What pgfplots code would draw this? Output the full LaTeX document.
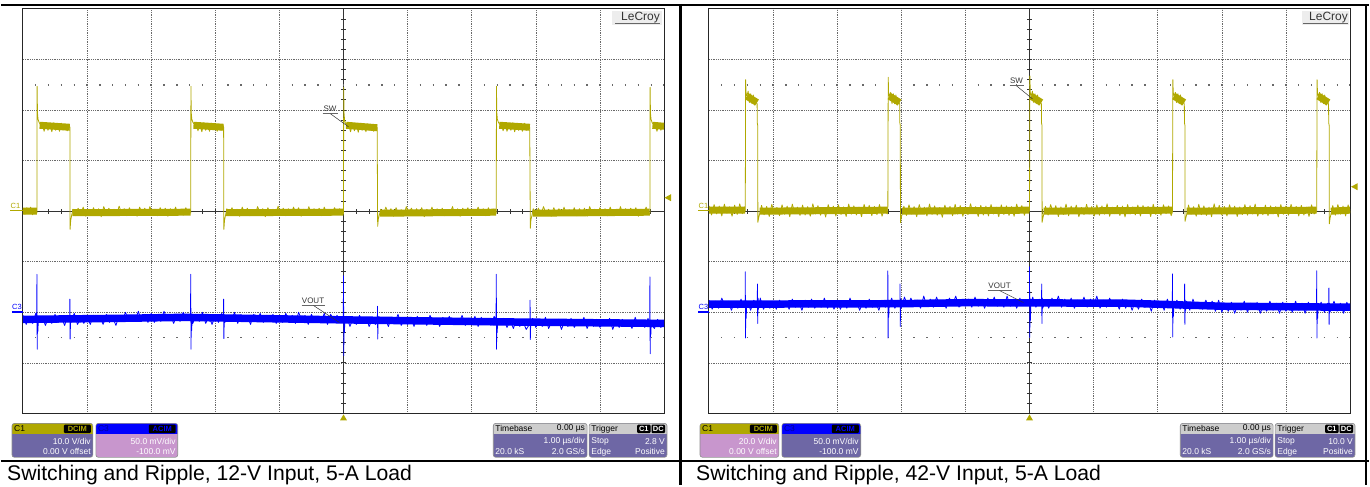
\documentclass[border=0pt]{standalone}
\usepackage{pgfplots}
\pgfplotsset{compat=1.18}
\usepackage{fontspec}
\setmainfont{Liberation Sans}
\definecolor{sy}{RGB}{176,168,0}
\definecolor{sb}{RGB}{0,0,255}
\definecolor{sbd}{RGB}{0,0,150}
\definecolor{bpur}{RGB}{110,103,165}
\definecolor{bpink}{RGB}{200,150,205}
\definecolor{hgray}{RGB}{205,205,205}
\definecolor{gridc}{RGB}{105,105,105}
\newcommand{\boxfont}{\fontsize{8.5}{9}\selectfont}
\newcommand{\badgefont}{\fontsize{7.5}{8}\selectfont\bfseries}
\pgfplotsset{
 scopegrid/.style={width=642pt,height=405pt,scale only axis,anchor=south west,
   xmin=-5,xmax=5, xtick={-4,...,4}, xticklabels={}, yticklabels={},
   major tick length=0pt, tick style={draw=none},
   grid=major, major grid style={gridc, line width=0.55pt, dash pattern=on 0.8pt off 1pt},
   axis line style={black!85, line width=1pt}, clip mode=individual, unbounded coords=jump},
 chthree/.style={width=642pt,height=405pt,scale only axis,anchor=south west,
   xmin=-5,xmax=5, ymin=-100,ymax=300, hide axis, unbounded coords=jump},
 trace/.style={line width=0.8pt, line join=round},
}
\newcommand{\scopedecor}{%
 \draw[black!80, line width=0.9pt] (rel axis cs:0.5,0) -- (rel axis cs:0.5,1);
 \draw[black!80, line width=0.9pt] (rel axis cs:0,0.5) -- (rel axis cs:1,0.5);
 \pgfplotsinvokeforeach{0.02,0.04,...,0.98}{\draw[black!80,line width=0.8pt] (rel axis cs:##1,0.5) ++(0pt,-2.5pt) -- ++(0pt,5pt);}
 \pgfplotsinvokeforeach{0.025,0.05,...,0.975}{\draw[black!80,line width=0.8pt] (rel axis cs:0.5,##1) ++(-2.5pt,0pt) -- ++(5pt,0pt);}
 \draw[gridc, line width=1.4pt, dash pattern=on 1.4pt off 11.44pt] (rel axis cs:0.02,0.8125) ++(-0.7pt,0pt) -- (rel axis cs:1,0.8125);
 \draw[gridc, line width=1.4pt, dash pattern=on 1.4pt off 11.44pt] (rel axis cs:0.02,0.1875) ++(-0.7pt,0pt) -- (rel axis cs:1,0.1875);
}
\newcommand{\infobox}[4]{%
 \begin{scope}
 \clip[rounded corners=2.5pt] (#1,28) rectangle (#2,62);
 \fill[#4] (#1,28) rectangle (#2,62);
 \fill[#3] (#1,51) rectangle (#2,62);
 \end{scope}
 \draw[black!45, line width=0.6pt, rounded corners=2.5pt] (#1,28) rectangle (#2,62);
}
\begin{document}
\begin{tikzpicture}[x=1pt,y=1pt]
\path (0,0) rectangle (1370,486);
% ================= LEFT PANEL =================
\begin{axis}[scopegrid, at={(22pt,72pt)}, ymin=-40, ymax=40, ytick={-30,-20,...,30}]
\scopedecor
\addplot[sy, line width=7pt] coordinates {(-5,0)(-4.785,0)(-4.78,nan)(-4.74,17.0)(-4.27,16.6)(-4.265,nan)(-4.23,-0.3)(-2.386,-0.2)(-2.383,nan)(-2.34,17.0)(-1.872,16.6)(-1.868,nan)(-1.83,-0.3)(-0.003,-0.2)(0,nan)(0.04,17.0)(0.527,16.5)(0.53,nan)(0.57,-0.4)(2.38,-0.2)(2.383,nan)(2.43,17.0)(2.907,16.6)(2.91,nan)(2.95,-0.4)(4.777,-0.2)(4.78,nan)(4.82,17.0)(5,16.8)};
\addplot[sy, trace] coordinates {
(-5.00,0.5)(-4.97,-0.6)(-4.94,0.7)(-4.91,-0.4)(-4.88,0.8)(-4.85,-0.7)(-4.82,0.5)(-4.79,-0.5)
(-4.782,-0.3)(-4.779,24.7)(-4.774,19.5)(-4.765,18.2)(-4.75,17.6)(-4.73,17.2)(-4.70,17.3)(-4.67,15.8)(-4.64,17.4)(-4.61,16.0)(-4.58,17.2)(-4.55,15.7)(-4.52,17.5)(-4.49,16.0)(-4.46,17.3)(-4.43,15.8)(-4.40,17.4)(-4.37,16.1)(-4.34,17.2)(-4.31,15.9)(-4.28,17.0)(-4.268,16.6)(-4.265,-3.6)(-4.255,-1.8)(-4.24,-0.8)
(-4.22,0.4)(-4.18,-0.9)(-4.14,0.6)(-4.10,-0.5)(-4.06,0.8)(-4.02,-1.0)(-3.98,0.3)(-3.94,-0.7)(-3.90,0.7)(-3.86,-0.6)(-3.82,0.5)(-3.78,-1.1)(-3.74,0.9)(-3.70,-0.4)(-3.66,0.6)(-3.62,-0.8)(-3.58,0.4)(-3.54,-0.7)(-3.50,1.0)(-3.46,-0.5)(-3.42,0.5)(-3.38,-0.9)(-3.34,0.7)(-3.30,-0.6)(-3.26,0.3)(-3.22,-1.0)(-3.18,0.8)(-3.14,-0.5)(-3.10,0.6)(-3.06,-0.8)(-3.02,0.9)(-2.98,-0.6)(-2.94,0.4)(-2.90,-0.9)(-2.86,0.7)(-2.82,-0.4)(-2.78,0.6)(-2.74,-1.0)(-2.70,0.5)(-2.66,-0.7)(-2.62,0.8)(-2.58,-0.5)(-2.54,0.4)(-2.50,-0.8)(-2.46,0.7)(-2.42,-0.6)(-2.39,0.2)
(-2.383,-0.4)(-2.380,24.7)(-2.375,19.5)(-2.366,18.2)(-2.35,17.6)(-2.33,17.2)(-2.30,17.4)(-2.27,15.9)(-2.24,17.3)(-2.21,15.7)(-2.18,17.5)(-2.15,16.0)(-2.12,17.2)(-2.09,15.8)(-2.06,17.4)(-2.03,16.1)(-2.00,17.3)(-1.97,15.8)(-1.94,17.2)(-1.91,16.0)(-1.88,17.0)(-1.87,16.6)(-1.866,-3.6)(-1.856,-1.8)(-1.84,-0.8)
(-1.82,0.5)(-1.78,-0.8)(-1.74,0.7)(-1.70,-0.6)(-1.66,0.4)(-1.62,-1.0)(-1.58,0.8)(-1.54,-0.5)(-1.50,0.6)(-1.46,-0.9)(-1.42,0.3)(-1.38,-0.7)(-1.34,0.9)(-1.30,-0.4)(-1.26,0.5)(-1.22,-1.1)(-1.18,0.7)(-1.14,-0.6)(-1.10,0.4)(-1.06,-0.8)(-1.02,1.0)(-0.98,-0.5)(-0.94,0.6)(-0.90,-0.9)(-0.86,0.5)(-0.82,-0.7)(-0.78,0.8)(-0.74,-0.4)(-0.70,0.7)(-0.66,-1.0)(-0.62,0.4)(-0.58,-0.6)(-0.54,0.9)(-0.50,-0.8)(-0.46,0.5)(-0.42,-0.5)(-0.38,0.6)(-0.34,-0.9)(-0.30,0.8)(-0.26,-0.6)(-0.22,0.3)(-0.18,-0.8)(-0.14,0.7)(-0.10,-0.5)(-0.06,0.5)(-0.02,-0.7)
(0.0,-0.5)(0.003,24.5)(0.008,19.5)(0.017,18.0)(0.03,17.4)(0.05,17.0)(0.08,17.2)(0.11,15.7)(0.14,17.3)(0.17,15.9)(0.20,17.2)(0.23,15.6)(0.26,17.4)(0.29,16.0)(0.32,17.1)(0.35,15.7)(0.38,17.3)(0.41,16.0)(0.44,17.1)(0.47,15.8)(0.50,17.0)(0.525,16.5)(0.533,-3.0)(0.543,-1.6)(0.56,-0.7)
(0.58,0.4)(0.62,-0.7)(0.66,0.8)(0.70,-0.5)(0.74,0.5)(0.78,-1.0)(0.82,0.7)(0.86,-0.6)(0.90,0.3)(0.94,-0.9)(0.98,0.9)(1.02,-0.4)(1.06,0.6)(1.10,-0.8)(1.14,0.5)(1.18,-0.6)(1.22,0.7)(1.26,-1.1)(1.30,0.4)(1.34,-0.5)(1.38,0.8)(1.42,-0.8)(1.46,0.5)(1.50,-0.6)(1.54,0.6)(1.58,-0.9)(1.62,0.3)(1.66,-0.5)(1.70,0.9)(1.74,-0.7)(1.78,0.5)(1.82,-1.0)(1.86,0.6)(1.90,-0.4)(1.94,0.7)(1.98,-0.8)(2.02,0.4)(2.06,-0.6)(2.10,0.8)(2.14,-0.5)(2.18,0.5)(2.22,-0.9)(2.26,0.7)(2.30,-0.6)(2.34,0.4)(2.37,-0.5)
(2.383,-0.4)(2.386,24.7)(2.391,19.5)(2.40,18.2)(2.415,17.6)(2.435,17.2)(2.46,17.3)(2.49,15.9)(2.52,17.4)(2.55,15.8)(2.58,17.2)(2.61,16.0)(2.64,17.5)(2.67,15.7)(2.70,17.3)(2.73,16.0)(2.76,17.2)(2.79,15.8)(2.82,17.4)(2.85,16.0)(2.88,17.1)(2.905,16.6)(2.914,-3.4)(2.924,-1.7)(2.94,-0.8)
(2.96,0.5)(3.00,-0.8)(3.04,0.6)(3.08,-0.6)(3.12,0.9)(3.16,-0.5)(3.20,0.4)(3.24,-1.0)(3.28,0.7)(3.32,-0.4)(3.36,0.5)(3.40,-0.8)(3.44,0.8)(3.48,-0.7)(3.52,0.3)(3.56,-0.6)(3.60,0.7)(3.64,-0.9)(3.68,0.5)(3.72,-0.5)(3.76,0.6)(3.80,-1.0)(3.84,0.9)(3.88,-0.4)(3.92,0.4)(3.96,-0.8)(4.00,0.7)(4.04,-0.6)(4.08,0.5)(4.12,-0.9)(4.16,0.8)(4.20,-0.5)(4.24,0.3)(4.28,-0.7)(4.32,0.9)(4.36,-0.6)(4.40,0.5)(4.44,-0.8)(4.48,0.6)(4.52,-0.5)(4.56,0.7)(4.60,-1.0)(4.64,0.4)(4.68,-0.6)(4.72,0.8)(4.76,-0.5)
(4.78,-0.4)(4.783,24.5)(4.788,19.5)(4.797,18.2)(4.812,17.6)(4.83,17.2)(4.86,17.3)(4.89,15.8)(4.92,17.4)(4.95,16.0)(4.98,17.2)(5.0,16.4)};
\end{axis}
\begin{axis}[chthree, at={(22pt,72pt)}]
\addplot[sb, line width=7.5pt] coordinates {(-5,-7)(-3.5,-6)(-2.5,-5)(-1,-6.5)(0,-7.5)(2.5,-9.5)(5,-11)};
\addplot[sb, trace] coordinates {
(-5.00,-3)(-4.95,-12)(-4.90,-4)(-4.85,-11)(-4.80,-1)
(-4.785,-7)(-4.782,37.5)(-4.778,-36.5)(-4.773,-4)(-4.768,-19)(-4.76,-8)
(-4.75,-9)(-4.70,-4)(-4.65,-13)(-4.60,-5)(-4.55,-11)(-4.50,-2)(-4.45,-10)(-4.40,-5)(-4.35,-13)(-4.30,-3)
(-4.27,-7)(-4.268,13)(-4.264,-26.5)(-4.258,-7)
(-4.25,-10)(-4.20,-1)(-4.15,-12)(-4.10,-6)(-4.05,-11)(-4.00,-4)(-3.95,-12)(-3.90,-3)(-3.85,-9)(-3.80,-4)(-3.75,-12)(-3.70,-2)(-3.65,-10)(-3.60,-5)(-3.55,-13)(-3.50,-3)
(-3.45,-8)(-3.40,0)(-3.35,-9)(-3.30,-3)(-3.25,-8)(-3.20,1)(-3.15,-9)(-3.10,-2)(-3.05,-10)(-3.00,-1)(-2.95,-10)(-2.90,-2)(-2.85,-9)(-2.80,1)(-2.75,-7)(-2.70,-2)(-2.65,-11)(-2.60,-3)(-2.55,-9)(-2.50,0)(-2.45,-8)(-2.40,-3)
(-2.386,-5)(-2.383,37.5)(-2.379,-36.5)(-2.374,-3)(-2.369,-18)(-2.36,-6)
(-2.35,-11)(-2.30,-2)(-2.25,-9)(-2.20,0)(-2.15,-11)(-2.10,-4)(-2.05,-12)(-2.00,-3)(-1.95,-10)(-1.90,-1)
(-1.872,-6)(-1.87,13)(-1.866,-26)(-1.86,-7)
(-1.85,-10)(-1.80,-3)(-1.75,-9)(-1.70,0)(-1.65,-11)(-1.60,-2)(-1.55,-8)(-1.50,-4)(-1.45,-12)(-1.40,-2)(-1.35,-9)(-1.30,-1)(-1.25,-10)(-1.20,-3)(-1.15,-9)(-1.10,-2)(-1.05,-11)(-1.00,-3)(-0.95,-10)(-0.90,-1)(-0.85,-9)(-0.80,-3)(-0.75,-11)(-0.70,0)(-0.65,-8)(-0.60,-3)(-0.55,-12)(-0.50,-2)(-0.45,-9)(-0.40,-4)(-0.35,-10)(-0.30,-1)(-0.25,-12)(-0.20,-2)(-0.15,-8)(-0.10,-3)(-0.05,-10)
(-0.003,-6)(0,36)(0.004,-43)(0.009,-5)(0.014,-20)(0.022,-7)
(0.05,-4)(0.10,-14)(0.15,-6)(0.20,-12)(0.25,-3)(0.30,-11)(0.35,-5)(0.40,-14)(0.45,-7)(0.50,-12)
(0.528,-8)(0.53,6)(0.534,-26.5)(0.54,-9)
(0.55,-4)(0.60,-11)(0.65,-6)(0.70,-14)(0.75,-5)(0.80,-11)(0.85,-2)(0.90,-13)(0.95,-7)(1.00,-12)(1.05,-5)(1.10,-14)(1.15,-4)(1.20,-10)(1.25,-6)(1.30,-13)(1.35,-3)(1.40,-11)(1.45,-6)(1.50,-14)(1.55,-5)(1.60,-12)(1.65,-4)(1.70,-12)(1.75,-7)(1.80,-11)(1.85,-3)(1.90,-13)(1.95,-6)(2.00,-12)(2.05,-4)(2.10,-14)(2.15,-5)(2.20,-11)(2.25,-7)(2.30,-13)(2.35,-4)
(2.38,-8)(2.383,37.5)(2.387,-36.5)(2.392,-6)(2.397,-20)(2.405,-9)
(2.45,-12)(2.50,-6)(2.55,-15)(2.60,-8)(2.65,-16)(2.70,-7)(2.75,-14)(2.80,-9)(2.85,-17)
(2.908,-11)(2.91,12)(2.914,-27)(2.92,-12)
(2.95,-6)(3.00,-15)(3.05,-8)(3.10,-14)(3.15,-5)(3.20,-16)(3.25,-9)(3.30,-13)(3.35,-7)(3.40,-17)(3.45,-8)(3.50,-14)(3.55,-6)(3.60,-15)(3.65,-9)(3.70,-13)(3.75,-5)(3.80,-16)(3.85,-8)(3.90,-14)(3.95,-7)(4.00,-15)(4.05,-10)(4.10,-13)(4.15,-6)(4.20,-17)(4.25,-8)(4.30,-15)(4.35,-7)(4.40,-14)(4.45,-9)(4.50,-16)(4.55,-5)(4.60,-14)(4.65,-8)(4.70,-15)(4.75,-6)
(4.777,-11)(4.78,35)(4.784,-41)(4.789,-8)(4.794,-22)(4.80,-12)
(4.85,-16)(4.90,-7)(4.95,-15)(5.00,-9)};
\end{axis}
% ================= RIGHT PANEL =================
\begin{axis}[scopegrid, at={(709pt,72pt)}, ymin=-80, ymax=80, ytick={-60,-40,...,60}]
\scopedecor
\addplot[sy, line width=7pt] coordinates {(-5,0.4)(-4.437,0.4)(-4.434,nan)(-4.41,45.5)(-4.25,43)(-4.248,nan)(-4.21,0)(-2.213,0.4)(-2.21,nan)(-2.186,45.5)(-2.026,43)(-2.024,nan)(-1.99,0)(-0.003,0.4)(0,nan)(0.024,45.5)(0.184,43)(0.186,nan)(0.22,0)(2.227,0.4)(2.23,nan)(2.254,45.5)(2.414,43)(2.416,nan)(2.45,0)(4.477,0.4)(4.48,nan)(4.504,45.5)(4.664,43)(4.666,nan)(4.70,0)(5,0.4)};
\addplot[sy, trace] coordinates {
(-5.00,2.2)(-4.96,-1.5)(-4.92,2.6)(-4.88,-1.1)(-4.84,2.0)(-4.80,-1.9)(-4.76,2.8)(-4.72,-0.8)(-4.68,1.7)(-4.64,-2.0)(-4.60,2.4)(-4.56,-1.3)(-4.52,2.9)(-4.48,-1.0)(-4.44,1.8)
(-4.434,0)(-4.432,16)(-4.428,52)(-4.422,47)(-4.409,45.5)(-4.389,47.5)(-4.369,43)(-4.349,46.5)(-4.329,42.5)(-4.309,46)(-4.289,42)(-4.269,44.5)(-4.254,42.5)(-4.249,42.5)(-4.247,35)(-4.240,34)(-4.237,-4.4)(-4.224,-2.5)(-4.204,-0.5)
(-4.18,2.3)(-4.14,-1.4)(-4.10,1.9)(-4.06,-2.1)(-4.02,2.7)(-3.98,-0.9)(-3.94,1.5)(-3.90,-1.8)(-3.86,2.5)(-3.82,-1.2)(-3.78,2.0)(-3.74,-2.2)(-3.70,2.8)(-3.66,-1.0)(-3.62,1.6)(-3.58,-1.7)(-3.54,2.4)(-3.50,-1.5)(-3.46,1.8)(-3.42,-2.0)(-3.38,2.9)(-3.34,-1.1)(-3.30,2.2)(-3.26,-1.6)(-3.22,1.4)(-3.18,-2.3)(-3.14,2.6)(-3.10,-0.8)(-3.06,2.0)(-3.02,-1.9)(-2.98,2.5)(-2.94,-1.3)(-2.90,1.7)(-2.86,-2.1)(-2.82,2.8)(-2.78,-1.2)(-2.74,2.1)(-2.70,-1.5)(-2.66,1.6)(-2.62,-2.2)(-2.58,2.7)(-2.54,-1.0)(-2.50,2.3)(-2.46,-1.8)(-2.42,1.9)(-2.38,-1.4)(-2.34,2.6)(-2.30,-2.0)(-2.26,1.5)(-2.22,-1.1)
(-2.21,0)(-2.208,16)(-2.204,53)(-2.198,47)(-2.185,45.5)(-2.165,47)(-2.145,42.5)(-2.125,46.5)(-2.105,42.5)(-2.085,46)(-2.065,42)(-2.045,44.5)(-2.03,42.5)(-2.025,42.5)(-2.023,35)(-2.016,34)(-2.013,-4.6)(-2.0,-2.5)(-1.98,-0.5)
(-1.96,2.0)(-1.92,-1.7)(-1.88,2.5)(-1.84,-1.1)(-1.80,1.8)(-1.76,-2.2)(-1.72,2.6)(-1.68,-0.9)(-1.64,1.6)(-1.60,-1.9)(-1.56,2.8)(-1.52,-1.3)(-1.48,2.1)(-1.44,-1.6)(-1.40,1.5)(-1.36,-2.4)(-1.32,2.4)(-1.28,-1.0)(-1.24,1.9)(-1.20,-1.8)(-1.16,2.7)(-1.12,-1.2)(-1.08,2.2)(-1.04,-2.0)(-1.00,1.7)(-0.96,-1.4)(-0.92,2.9)(-0.88,-0.8)(-0.84,1.8)(-0.80,-2.1)(-0.76,2.3)(-0.72,-1.5)(-0.68,2.0)(-0.64,-1.9)(-0.60,2.6)(-0.56,-1.1)(-0.52,1.6)(-0.48,-2.2)(-0.44,2.5)(-0.40,-1.3)(-0.36,2.1)(-0.32,-1.7)(-0.28,1.8)(-0.24,-2.0)(-0.20,2.8)(-0.16,-0.9)(-0.12,2.2)(-0.08,-1.6)(-0.04,1.4)
(0,0)(0.002,16)(0.006,53.5)(0.012,47)(0.025,45.5)(0.045,47.5)(0.065,43)(0.085,46.5)(0.105,42.5)(0.125,46)(0.145,42)(0.165,44.5)(0.18,42.5)(0.185,42.5)(0.187,35)(0.194,34)(0.197,-4.4)(0.21,-2.5)(0.23,-0.5)
(0.25,1.9)(0.29,-1.5)(0.33,2.6)(0.37,-1.0)(0.41,2.2)(0.45,-2.1)(0.49,1.7)(0.53,-1.3)(0.57,2.8)(0.61,-1.8)(0.65,2.0)(0.69,-0.9)(0.73,2.4)(0.77,-2.2)(0.81,1.5)(0.85,-1.4)(0.89,2.7)(0.93,-1.1)(0.97,1.8)(1.01,-1.9)(1.05,2.5)(1.09,-1.6)(1.13,2.1)(1.17,-1.2)(1.21,2.9)(1.25,-2.0)(1.29,1.6)(1.33,-1.0)(1.37,2.3)(1.41,-1.7)(1.45,2.0)(1.49,-2.3)(1.53,2.6)(1.57,-1.1)(1.61,1.7)(1.65,-1.5)(1.69,2.4)(1.73,-1.9)(1.77,2.2)(1.81,-0.8)(1.85,1.9)(1.89,-2.1)(1.93,2.7)(1.97,-1.3)(2.01,1.5)(2.05,-1.6)(2.09,2.5)(2.13,-1.0)(2.17,2.1)(2.21,-1.8)
(2.23,0)(2.232,16)(2.236,52)(2.242,47)(2.255,45.5)(2.275,47)(2.295,43)(2.315,46.5)(2.335,42.5)(2.355,46)(2.375,42)(2.395,44.5)(2.41,42.5)(2.415,42.5)(2.417,35)(2.424,34)(2.427,-4)(2.44,-2.5)(2.46,-0.5)
(2.48,2.4)(2.52,-1.2)(2.56,1.8)(2.60,-2.0)(2.64,2.7)(2.68,-1.4)(2.72,2.1)(2.76,-1.7)(2.80,1.6)(2.84,-2.2)(2.88,2.9)(2.92,-1.0)(2.96,2.3)(3.00,-1.5)(3.04,1.9)(3.08,-1.9)(3.12,2.5)(3.16,-0.9)(3.20,2.0)(3.24,-2.1)(3.28,1.7)(3.32,-1.3)(3.36,2.6)(3.40,-1.6)(3.44,2.2)(3.48,-1.1)(3.52,2.8)(3.56,-2.0)(3.60,1.5)(3.64,-1.4)(3.68,2.4)(3.72,-1.8)(3.76,2.1)(3.80,-1.0)(3.84,1.8)(3.88,-2.3)(3.92,2.6)(3.96,-1.2)(4.00,2.0)(4.04,-1.6)(4.08,2.7)(4.12,-0.8)(4.16,1.9)(4.20,-1.9)(4.24,2.3)(4.28,-1.5)(4.32,1.6)(4.36,-2.1)(4.40,2.5)(4.44,-1.1)
(4.48,0)(4.482,16)(4.486,52)(4.492,47)(4.505,45.5)(4.525,47)(4.545,43)(4.565,46.5)(4.585,42.5)(4.605,46)(4.625,42)(4.645,44.5)(4.66,42.5)(4.665,42.5)(4.667,35)(4.674,34)(4.677,-5)(4.69,-2.5)(4.71,-0.5)
(4.73,2.2)(4.77,-1.6)(4.81,2.6)(4.85,-1.2)(4.89,2.0)(4.93,-1.9)(4.97,2.5)(5.0,-0.6)};
\end{axis}
\begin{axis}[chthree, at={(709pt,72pt)}]
\addplot[sb, line width=7.5pt] coordinates {(-5,8)(-2,8.5)(-1,9.5)(1.5,9)(3,6)(5,5)};
\addplot[sb, trace] coordinates {
(-5.00,12)(-4.95,3)(-4.90,11)(-4.85,4)(-4.80,14)(-4.75,6)(-4.70,11)(-4.65,2)(-4.60,10)(-4.55,4)(-4.50,13)(-4.45,5)
(-4.436,8)(-4.434,40)(-4.43,-25.5)(-4.425,12)(-4.42,-6)(-4.412,7)
(-4.40,10)(-4.35,2)(-4.30,12)(-4.25,5)
(-4.246,8)(-4.244,28)(-4.24,-11)(-4.234,14)(-4.228,3)
(-4.20,14)(-4.15,3)(-4.10,9)(-4.05,4)(-4.00,11)(-3.95,3)(-3.90,12)(-3.85,6)(-3.80,11)(-3.75,3)(-3.70,13)(-3.65,5)(-3.60,10)(-3.55,2)(-3.50,12)(-3.45,5)(-3.40,13)(-3.35,4)(-3.30,10)(-3.25,5)(-3.20,14)(-3.15,4)(-3.10,11)(-3.05,3)(-3.00,12)(-2.95,3)(-2.90,11)(-2.85,4)(-2.80,14)(-2.75,6)(-2.70,11)(-2.65,2)(-2.60,10)(-2.55,4)(-2.50,13)(-2.45,5)(-2.40,10)(-2.35,2)(-2.30,12)(-2.25,5)
(-2.212,8)(-2.21,41)(-2.206,-25.5)(-2.201,12)(-2.196,-5)(-2.188,8)
(-2.15,14)(-2.10,4)(-2.05,12)
(-2.022,9)(-2.02,28)(-2.016,-14)(-2.01,13)(-2.004,4)
(-1.95,15)(-1.90,6)(-1.85,14)(-1.80,7)(-1.75,12)(-1.70,4)(-1.65,16)(-1.60,6)(-1.55,13)(-1.50,5)(-1.45,15)(-1.40,7)(-1.35,12)(-1.30,4)(-1.25,14)(-1.20,8)(-1.15,16)(-1.10,5)(-1.05,12)(-1.00,6)(-0.95,13)(-0.90,5)(-0.85,15)(-0.80,6)(-0.75,12)(-0.70,4)(-0.65,14)(-0.60,7)(-0.55,15)(-0.50,6)(-0.45,12)(-0.40,5)(-0.35,16)(-0.30,6)(-0.25,13)(-0.20,4)(-0.15,14)(-0.10,7)(-0.05,12)
(-0.002,9)(0,45)(0.004,-25)(0.009,14)(0.014,-8)(0.022,9)
(0.05,15)(0.10,5)(0.15,13)
(0.188,10)(0.19,28)(0.194,-11)(0.2,14)(0.206,4)
(0.25,12)(0.30,4)(0.35,14)(0.40,7)(0.45,16)(0.50,5)(0.55,13)(0.60,6)(0.65,14)(0.70,4)(0.75,12)(0.80,7)(0.85,15)(0.90,5)(0.95,13)(1.00,6)(1.05,16)(1.10,4)(1.15,12)(1.20,5)(1.25,14)(1.30,7)(1.35,12)(1.40,3)(1.45,13)
(1.50,4)(1.55,12)(1.60,2)(1.65,11)(1.70,3)(1.75,13)(1.80,5)(1.85,10)(1.90,1)(1.95,12)(2.00,4)(2.05,11)(2.10,2)(2.15,13)(2.20,5)
(2.228,7)(2.23,38)(2.234,-24.5)(2.239,11)(2.244,-4)(2.252,6)
(2.30,12)(2.35,3)(2.40,10)
(2.418,7)(2.42,28)(2.424,-12)(2.43,12)(2.436,2)
(2.45,11)(2.50,2)(2.55,13)(2.60,4)(2.65,10)(2.70,3)(2.75,12)(2.80,5)(2.85,11)(2.90,1)(2.95,12)
(3.00,0)(3.05,9)(3.10,1)(3.15,10)(3.20,-1)(3.25,8)(3.30,2)(3.35,11)(3.40,0)(3.45,9)(3.50,3)(3.55,10)(3.60,-1)(3.65,8)(3.70,1)(3.75,11)(3.80,2)(3.85,9)(3.90,-1)(3.95,10)(4.00,1)(4.05,8)(4.10,0)(4.15,11)(4.20,2)(4.25,9)(4.30,-1)(4.35,10)(4.40,3)(4.45,8)
(4.478,5)(4.48,41)(4.484,-25.5)(4.489,9)(4.494,-6)(4.502,4)
(4.55,10)(4.60,0)(4.65,9)
(4.668,5)(4.67,24)(4.674,-12)(4.68,9)(4.686,0)
(4.75,11)(4.80,1)(4.85,9)(4.90,-1)(4.95,10)(5.00,2)};
\end{axis}
% ================= annotations =================
\begin{scope}[font=\fontsize{7.5}{8}\selectfont]
 \node[sy, anchor=south west, inner sep=0] at (9.5,277) {C1};
 \draw[sy, line width=1.5pt] (9.5,275) -- (22,275);
 \node[sy, anchor=south west, inner sep=0] at (698.5,277) {C1};
 \draw[sy, line width=1.5pt] (698.5,275) -- (709,275);
 \node[sb, anchor=south west, inner sep=0] at (11,176) {C3};
 \draw[sb, line width=1.5pt] (11,173.5) -- (22,173.5);
 \node[sb, anchor=south west, inner sep=0] at (698.5,176) {C3};
 \draw[sb, line width=1.5pt] (698.5,173.5) -- (709,173.5);
\end{scope}
\fill[sy] (664.5,288) -- (671,291.5) -- (671,284.5) -- cycle;
\fill[sy] (1352,299) -- (1358.5,302.5) -- (1358.5,295.5) -- cycle;
\fill[sy] (343,71) -- (339.5,65) -- (346.5,65) -- cycle;
\fill[sy] (1030,71) -- (1026.5,65) -- (1033.5,65) -- cycle;
\begin{scope}[font=\fontsize{8}{8}\selectfont, black!80]
 \node[anchor=base, inner sep=0] at (329.5,374.5) {SW};
 \draw[black!60, line width=0.8pt] (322,372) -- (337,372);
 \draw[black!80, line width=0.5pt] (330,372) -- (348,359);
 \node[anchor=base, inner sep=0] at (1017,402.5) {SW};
 \draw[black!60, line width=0.8pt] (1010,400) -- (1024,400);
 \draw[black!80, line width=0.5pt] (1017,400) -- (1033,387);
 \node[anchor=base, inner sep=0] at (312.5,182.5) {VOUT};
 \draw[black!60, line width=0.8pt] (301,180) -- (324,180);
 \draw[black!80, line width=0.5pt] (313,180) -- (339,163);
 \node[anchor=base, inner sep=0] at (1000,197.5) {VOUT};
 \draw[black!60, line width=0.8pt] (988,195) -- (1012,195);
 \draw[black!80, line width=0.5pt] (1000,195) -- (1024,183);
\end{scope}
\fill[black!7] (612,461) rectangle (662,475);
\node[anchor=base east, inner sep=0, font=\fontsize{12}{12}\selectfont, black!80] at (660,465.5) {LeCroy};
\draw[black!60, line width=0.8pt] (615,463) -- (660,463);
\fill[black!7] (1303,461) rectangle (1350,475);
\node[anchor=base east, inner sep=0, font=\fontsize{12}{12}\selectfont, black!80] at (1349,465.5) {LeCroy};
\draw[black!60, line width=0.8pt] (1304,463) -- (1349,463);
% ---- info boxes left ----
\begin{scope}[every node/.style={inner sep=0, font=\boxfont}]
\infobox{11}{92}{sy}{bpur}
\node[anchor=west] at (13,56.5) {C1};
\fill[black, rounded corners=1pt] (63,52.3) rectangle (90,60.7);
\node[sy, font=\badgefont] at (76.5,56.5) {DCIM};
\node[anchor=east, white] at (90,44) {10.0 V/div};
\node[anchor=east, white] at (90,33.5) {0.00 V offset};
\infobox{95}{177}{sb}{bpink}
\node[anchor=west, sbd] at (97,56.5) {C3};
\fill[black, rounded corners=1pt] (148,52.3) rectangle (175,60.7);
\node[sb, font=\badgefont] at (161.5,56.5) {ACIM};
\node[anchor=east, white] at (175,44) {50.0 mV/div};
\node[anchor=east, white] at (175,33.5) {-100.0 mV};
\infobox{493}{587}{hgray}{bpur}
\node[anchor=west] at (495,56.5) {Timebase};
\node[anchor=east] at (585,56.5) {0.00 µs};
\node[anchor=east, white] at (585,44) {1.00 µs/div};
\node[anchor=west, white] at (495,33.5) {20.0 kS};
\node[anchor=east, white] at (585,33.5) {2.0 GS/s};
\infobox{589}{667}{hgray}{bpur}
\node[anchor=west] at (591,56.5) {Trigger};
\fill[black, rounded corners=1pt] (637,52.3) rectangle (650.5,60.7);
\node[white, font=\badgefont] at (643.75,56.5) {C1};
\fill[black, rounded corners=1pt] (651.5,52.3) rectangle (665,60.7);
\node[white, font=\badgefont] at (658.25,56.5) {DC};
\node[anchor=west, white] at (591,44) {Stop};
\node[anchor=east, white] at (665,44) {2.8 V};
\node[anchor=west, white] at (591,33.5) {Edge};
\node[anchor=east, white] at (665,33.5) {Positive};
% ---- info boxes right ----
\infobox{700}{779}{sy}{bpink}
\node[anchor=west] at (702,56.5) {C1};
\fill[black, rounded corners=1pt] (750,52.3) rectangle (777,60.7);
\node[sy, font=\badgefont] at (763.5,56.5) {DCIM};
\node[anchor=east, white] at (777,44) {20.0 V/div};
\node[anchor=east, white] at (777,33.5) {0.00 V offset};
\infobox{782}{861}{sb}{bpur}
\node[anchor=west, sbd] at (784,56.5) {C3};
\fill[black, rounded corners=1pt] (832,52.3) rectangle (859,60.7);
\node[sb, font=\badgefont] at (845.5,56.5) {ACIM};
\node[anchor=east, white] at (859,44) {50.0 mV/div};
\node[anchor=east, white] at (859,33.5) {-100.0 mV};
\infobox{1181}{1274}{hgray}{bpur}
\node[anchor=west] at (1183,56.5) {Timebase};
\node[anchor=east] at (1272,56.5) {0.00 µs};
\node[anchor=east, white] at (1272,44) {1.00 µs/div};
\node[anchor=west, white] at (1183,33.5) {20.0 kS};
\node[anchor=east, white] at (1272,33.5) {2.0 GS/s};
\infobox{1276}{1356}{hgray}{bpur}
\node[anchor=west] at (1278,56.5) {Trigger};
\fill[black, rounded corners=1pt] (1326,52.3) rectangle (1339.5,60.7);
\node[white, font=\badgefont] at (1332.75,56.5) {C1};
\fill[black, rounded corners=1pt] (1340.5,52.3) rectangle (1354,60.7);
\node[white, font=\badgefont] at (1347.25,56.5) {DC};
\node[anchor=west, white] at (1278,44) {Stop};
\node[anchor=east, white] at (1354,44) {10.0 V};
\node[anchor=west, white] at (1278,33.5) {Edge};
\node[anchor=east, white] at (1354,33.5) {Positive};
\end{scope}
% ---- table lines and captions ----
\draw[black, line width=2pt] (0,481) -- (1370,481);
\draw[black, line width=2pt] (0,24) -- (1370,24);
\draw[black, line width=2.5pt] (680.5,482) -- (680.5,0);
\draw[black, line width=2pt] (1367,482) -- (1367,0);
\node[anchor=base west, inner sep=0, font=\fontsize{21.2}{22}\selectfont] at (6,5) {Switching and Ripple, 12-V Input, 5-A Load};
\node[anchor=base west, inner sep=0, font=\fontsize{21.2}{22}\selectfont] at (696,5) {Switching and Ripple, 42-V Input, 5-A Load};
\end{tikzpicture}
\end{document}
